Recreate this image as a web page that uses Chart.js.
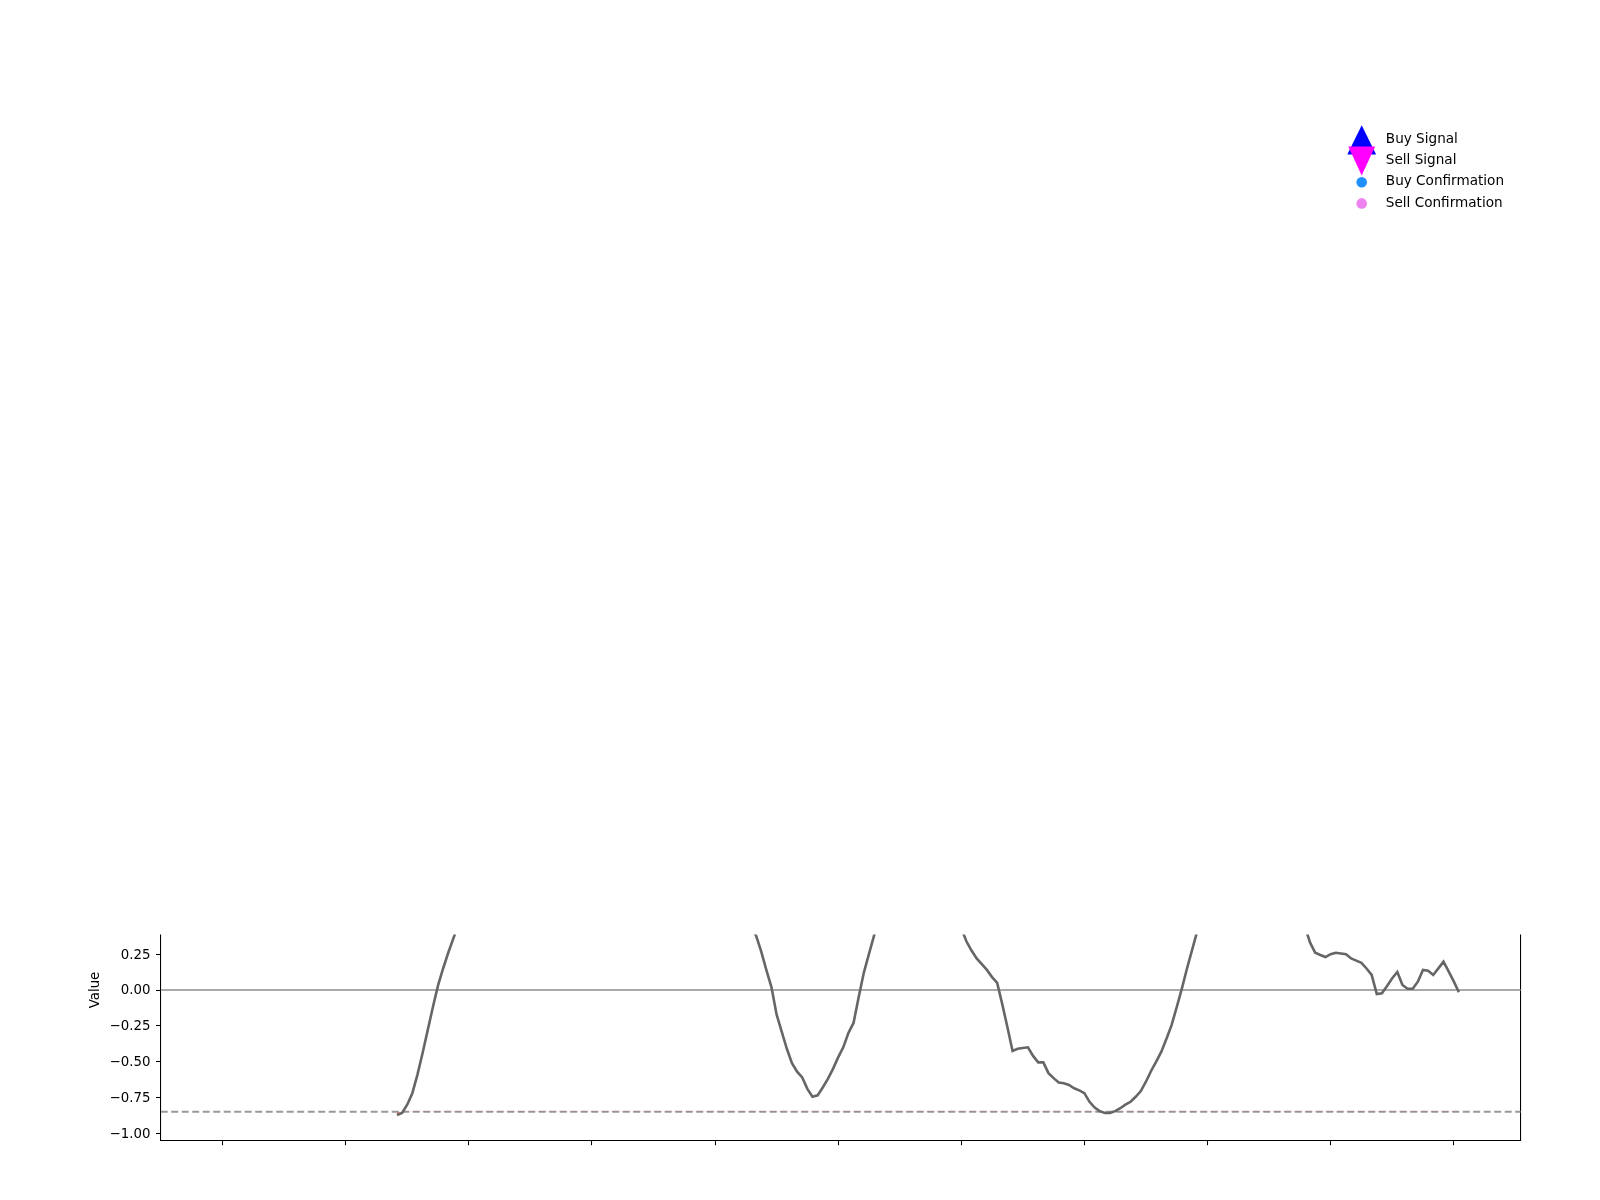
<!DOCTYPE html>
<html lang="en">
<head>
    <meta charset="UTF-8">
    <title>Signal oscillator</title>
    <script src="https://cdn.jsdelivr.net/npm/chart.js"></script>
    <style>
        body { margin: 0; background: #fff; }
        canvas { display: block; }
    </style>
</head>
<body>
    <canvas id="oscChart" width="1600" height="1200" style="width:1600px;height:1200px"></canvas>
    <script>
        // oscillator values, one per bar, starting at bar 34 (earlier bars are warm-up)
        const startIndex = 34;
        const oscillator = [
            -0.872, -0.858, -0.80, -0.72, -0.59, -0.44, -0.28, -0.12, 0.03, 0.15,
            0.26, 0.36, 0.46, 0.55, 0.63, 0.70, 0.76, 0.81, 0.85, 0.88,
            0.90, 0.91, 0.92, 0.93, 0.92, 0.90, 0.88, 0.86, 0.85, 0.84,
            0.82, 0.80, 0.79, 0.78, 0.76, 0.74, 0.72, 0.73, 0.75, 0.77,
            0.78, 0.80, 0.82, 0.84, 0.86, 0.87, 0.88, 0.89, 0.90, 0.91,
            0.92, 0.93, 0.94, 0.94, 0.95, 0.94, 0.93, 0.91, 0.89, 0.86,
            0.83, 0.80, 0.77, 0.73, 0.69, 0.65, 0.60, 0.55, 0.50, 0.44,
            0.38, 0.27, 0.14, 0.02, -0.17, -0.29, -0.41, -0.51, -0.57, -0.61,
            -0.69, -0.745, -0.735, -0.68, -0.62, -0.55, -0.47, -0.40, -0.30, -0.23,
            -0.05, 0.12, 0.25, 0.38, 0.50, 0.60, 0.68, 0.74, 0.78, 0.81,
            0.83, 0.84, 0.83, 0.81, 0.78, 0.74, 0.70, 0.65, 0.58, 0.50,
            0.43, 0.34, 0.275, 0.22, 0.18, 0.14, 0.09, 0.05, -0.10, -0.26,
            -0.425, -0.41, -0.405, -0.40, -0.46, -0.505, -0.505, -0.58, -0.615, -0.645,
            -0.65, -0.663, -0.686, -0.70, -0.72, -0.78, -0.82, -0.845, -0.858, -0.858,
            -0.845, -0.825, -0.80, -0.78, -0.745, -0.705, -0.64, -0.565, -0.50, -0.43,
            -0.34, -0.245, -0.12, 0.01, 0.15, 0.28, 0.41, 0.52, 0.62, 0.71,
            0.78, 0.84, 0.88, 0.91, 0.93, 0.94, 0.94, 0.93, 0.91, 0.89,
            0.86, 0.83, 0.80, 0.76, 0.71, 0.63, 0.54, 0.44, 0.33, 0.26,
            0.244, 0.23, 0.25, 0.26, 0.255, 0.249, 0.22, 0.205, 0.19, 0.15,
            0.105, -0.028, -0.023, 0.028, 0.082, 0.126, 0.035, 0.009, 0.009, 0.058,
            0.14, 0.135, 0.105, 0.151, 0.198, 0.13, 0.06, -0.016
        ];
        const lastIndex = 241;
        const zeroLevel = 0;
        const lowerLevel = -0.85;
        const xTicks = [0, 24, 48, 72, 96, 120, 144, 168, 192, 216, 240];
        const yTicks = [-1, -0.75, -0.5, -0.25, 0, 0.25, 0.5, 0.75, 1];
        const legendLabels = ['Buy Signal', 'Sell Signal', 'Buy Confirmation', 'Sell Confirmation'];

        // axis limits like matplotlib's 5% margins
        const xMin = -0.05 * lastIndex;
        const xMax = lastIndex * 1.05;
        const yMin = -1.05, yMax = 1.05;

        const oscPoints = oscillator.map((v, i) => ({ x: startIndex + i, y: v }));
        const levelLine = (v) => [{ x: xMin, y: v }, { x: xMax, y: v }];

        Chart.defaults.font.family = "'DejaVu Sans', sans-serif";
        Chart.defaults.font.size = 13.33;
        Chart.defaults.color = '#000';

        // the upper (price) panel sits over the top of this one: white, with only its legend
        const upperPanelBottom = 934.5;
        const legendStyles = [
            { shape: 'up', color: '#0000ff' },
            { shape: 'down', color: '#ff00ff' },
            { shape: 'dot', color: '#1e90ff' },
            { shape: 'dot', color: '#ee82ee' }
        ];
        const upperPanel = {
            id: 'upperPanel',
            afterDraw(chart) {
                const ctx = chart.ctx;
                ctx.save();
                ctx.fillStyle = '#fff';
                ctx.fillRect(0, 0, chart.width, upperPanelBottom);

                const mx = 1361.7, tx = 1385.8, y0 = 139.8, dy = 21.2;
                legendLabels.forEach((label, i) => {
                    const st = legendStyles[i];
                    const cy = y0 + i * dy;
                    ctx.fillStyle = st.color;
                    ctx.beginPath();
                    if (st.shape === 'up') {
                        ctx.moveTo(mx, cy - 14.6);
                        ctx.lineTo(mx + 14.4, cy + 14.6);
                        ctx.lineTo(mx - 14.4, cy + 14.6);
                        ctx.closePath();
                    } else if (st.shape === 'down') {
                        ctx.moveTo(mx, cy + 14.6);
                        ctx.lineTo(mx + 13.4, cy - 14.6);
                        ctx.lineTo(mx - 13.4, cy - 14.6);
                        ctx.closePath();
                    } else {
                        ctx.arc(mx, cy, 5.3, 0, Math.PI * 2);
                    }
                    ctx.fill();
                    ctx.fillStyle = '#000';
                    ctx.font = "13.6px 'DejaVu Sans'";
                    ctx.textAlign = 'left';
                    ctx.textBaseline = 'middle';
                    ctx.fillText(label, tx, cy - 0.4);
                });
                ctx.restore();
            }
        };

        const ctx = document.getElementById('oscChart').getContext('2d');
        new Chart(ctx, {
            type: 'line',
            data: {
                datasets: [
                    {
                        label: 'Oscillator',
                        data: oscPoints,
                        borderColor: '#666666',
                        borderWidth: 2.6,
                        pointRadius: 0,
                        tension: 0,
                        order: 0,
                        fill: {
                            target: { value: lowerLevel },
                            above: 'rgba(0,0,0,0)',
                            below: 'rgba(255,0,0,0.35)'
                        }
                    },
                    {
                        label: 'Zero',
                        data: levelLine(zeroLevel),
                        borderColor: '#aaaaaa',
                        borderWidth: 1.8,
                        pointRadius: 0,
                        order: 2
                    },
                    {
                        label: 'Lower',
                        data: levelLine(lowerLevel),
                        borderColor: '#999999',
                        borderWidth: 2,
                        borderDash: [7, 3.5],
                        pointRadius: 0,
                        order: 1
                    }
                ]
            },
            options: {
                responsive: false,
                animation: false,
                devicePixelRatio: 1,
                layout: { padding: { top: 839.5, left: 84.7, right: 0, bottom: 0 } },
                plugins: {
                    legend: { display: false },
                    tooltip: { enabled: false }
                },
                scales: {
                    x: {
                        type: 'linear',
                        min: xMin,
                        max: xMax,
                        afterBuildTicks: (scale) => { scale.ticks = xTicks.map(v => ({ value: v })); },
                        afterFit: (scale) => { scale.height = 59.5; },
                        ticks: { display: false },
                        grid: { drawOnChartArea: false, drawTicks: true, tickLength: 4.7, tickColor: '#000', tickWidth: 1.07 },
                        border: { display: true, color: '#000', width: 1.07 }
                    },
                    y: {
                        position: 'left',
                        min: yMin,
                        max: yMax,
                        afterBuildTicks: (scale) => { scale.ticks = yTicks.map(v => ({ value: v })); },
                        afterFit: (scale) => { scale.width = 76; },
                        ticks: {
                            padding: 5.6,
                            labelOffset: 1,
                            callback: (v) => (v < 0 ? '\u2212' : '') + Math.abs(v).toFixed(2)
                        },
                        grid: { drawOnChartArea: false, drawTicks: true, tickLength: 4.7, tickColor: '#000', tickWidth: 1.07 },
                        border: { display: true, color: '#000', width: 1.07 },
                        title: { display: true, text: 'Value', padding: { top: 3, bottom: 0 } }
                    },
                    y2: {
                        position: 'right',
                        display: true,
                        min: yMin,
                        max: yMax,
                        afterFit: (scale) => { scale.width = 79.3; },
                        ticks: { display: false },
                        grid: { display: false, drawTicks: false },
                        border: { display: true, color: '#000', width: 1.07 }
                    }
                }
            },
            plugins: [upperPanel]
        });
    </script>
</body>
</html>
